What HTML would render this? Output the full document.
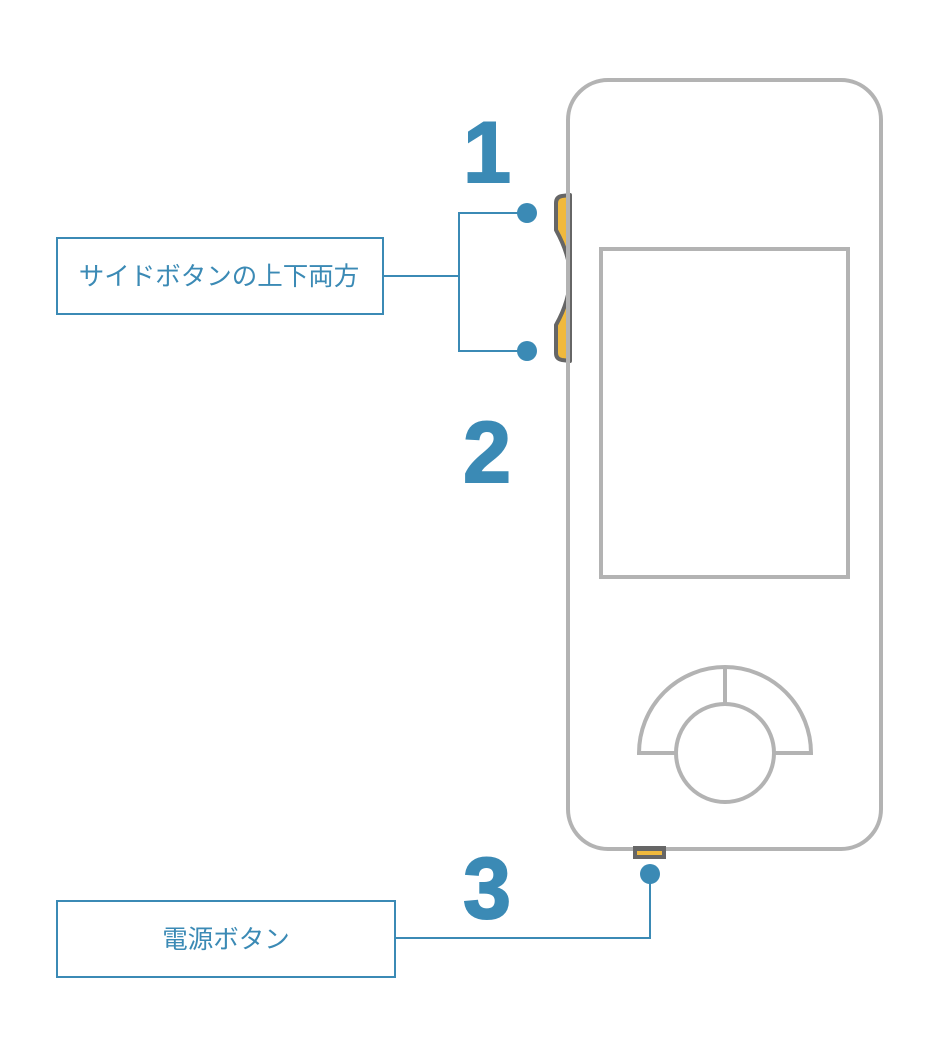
<!DOCTYPE html>
<html><head><meta charset="utf-8"><style>body{margin:0;background:#fff}</style></head><body>
<svg width="930" height="1050" xmlns="http://www.w3.org/2000/svg">
<rect width="930" height="1050" fill="#fff"/>
<path d="M570,195 L562,196 Q556,197 556,203 L556,230 Q570,255 570,277 Q570,300 556,325 L556,353 Q556,359 562,360 L570,361 Z" fill="#f0b93d" stroke="#666" stroke-width="4" stroke-linejoin="round"/>
<rect x="568" y="80" width="313" height="769" rx="40" fill="none" stroke="#b3b3b3" stroke-width="4"/>
<rect x="601" y="249" width="247" height="328" fill="none" stroke="#b3b3b3" stroke-width="4"/>
<path d="M639,753 A86,86 0 0 1 811,753 Z" fill="none" stroke="#b3b3b3" stroke-width="4"/>
<line x1="725" y1="667" x2="725" y2="704" stroke="#b3b3b3" stroke-width="4"/>
<circle cx="725" cy="753" r="49" fill="#fff" stroke="#b3b3b3" stroke-width="4"/>
<rect x="633" y="846" width="33" height="13" fill="#666"/>
<rect x="637" y="851" width="25" height="4" fill="#f0b93d"/>
<g stroke="#3b8ab5" stroke-width="2" fill="none">
<rect x="57" y="238" width="326" height="76"/>
<polyline points="383,276 459,276"/>
<polyline points="527,213 459,213 459,351 527,351"/>
<rect x="57" y="901" width="338" height="76"/>
<polyline points="395,938 650,938 650,874"/>
</g>
<g fill="#3b8ab5">
<circle cx="527" cy="213" r="10"/><circle cx="527" cy="351" r="10"/><circle cx="650" cy="874" r="10"/>
</g>
<g font-family="Liberation Sans, sans-serif" font-weight="bold" font-size="86" fill="#3b8ab5" text-anchor="middle" stroke="#3b8ab5" stroke-width="2">
<text x="487" y="182">1</text><text x="487" y="482">2</text><text x="487" y="918">3</text>
</g>
<g font-family="Liberation Sans, 'Noto Sans CJK JP', sans-serif" font-size="25.5" fill="#3b8ab5" text-anchor="middle">
<text x="219" y="285">サイドボタンの上下両方</text>
<text x="226" y="948">電源ボタン</text>
</g>
</svg>
</body></html>
